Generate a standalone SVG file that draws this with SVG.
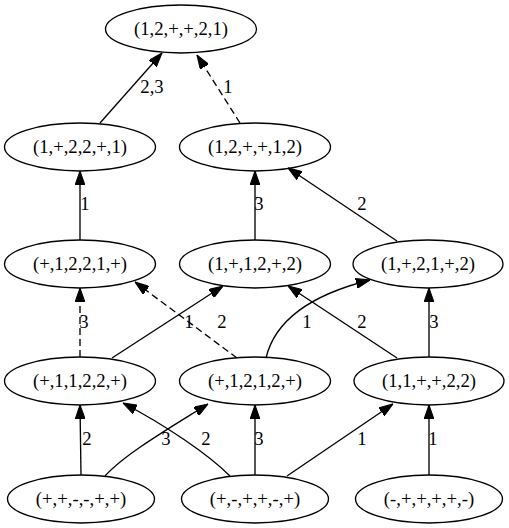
<svg xmlns="http://www.w3.org/2000/svg" width="509" height="528" viewBox="0 0 509 528">
<style>
.n ellipse{fill:none;stroke:#000;stroke-width:1.33}
text{font-family:"Liberation Serif","Times New Roman",serif;font-size:18.67px;text-anchor:middle;fill:#000}
.e path{fill:none;stroke:#000;stroke-width:1.33;marker-end:url(#ah)}
.e path.d{stroke-dasharray:7,4}
</style>
<defs>
<marker id="ah" markerUnits="userSpaceOnUse" markerWidth="14" markerHeight="10" viewBox="0 0 13.3 9.33" refX="13.3" refY="4.67" orient="auto">
<path d="M0,0 L13.3,4.67 L0,9.33 z" fill="#000" stroke="#000" stroke-width="1"/>
</marker>
</defs>
<rect width="509" height="528" fill="#fff"/>
<g class="e" id="edges">
<path d="M100,123 L162,53"/>
<path class="d" d="M240,123 L197,55"/>
<path d="M80,240 L80,171"/>
<path d="M255,240 L255,171"/>
<path d="M397,241 L288,168"/>
<path class="d" d="M80,357 L80,288"/>
<path d="M112,358 L223,286"/>
<path class="d" d="M237,358 L135,282"/>
<path d="M266,358 C275,320 310,295 370,280"/>
<path d="M397,358 L288,286"/>
<path d="M429,357 L429,288"/>
<path d="M81,475 L80,405"/>
<path d="M105,476 C125,454 168,429 208,404"/>
<path d="M230,476 C208,454 165,425 123,403"/>
<path d="M255,475 L255,405"/>
<path d="M287,476 L393,404"/>
<path d="M429,475 L429,405"/>
<text x="152" y="93">2,3</text>
<text x="228" y="93">1</text>
<text x="85" y="210">1</text>
<text x="259" y="210">3</text>
<text x="362" y="210">2</text>
<text x="84" y="328">3</text>
<text x="189" y="328">1</text>
<text x="222" y="328">2</text>
<text x="307" y="328">1</text>
<text x="362" y="328">2</text>
<text x="434" y="328">3</text>
<text x="87" y="445">2</text>
<text x="166" y="445">3</text>
<text x="206" y="445">2</text>
<text x="259" y="445">3</text>
<text x="362" y="445">1</text>
<text x="433" y="445">1</text>
</g>
<g class="n" id="n0"><ellipse cx="181" cy="29" rx="75.5" ry="24"/><text x="181" y="35">(1,2,+,+,2,1)</text></g>
<g class="n" id="n1"><ellipse cx="80" cy="147" rx="75.5" ry="24"/><text x="80" y="153">(1,+,2,2,+,1)</text></g>
<g class="n" id="n2"><ellipse cx="255" cy="147" rx="75.5" ry="24"/><text x="255" y="153">(1,2,+,+,1,2)</text></g>
<g class="n" id="n3"><ellipse cx="80" cy="264" rx="75.5" ry="24"/><text x="80" y="270">(+,1,2,2,1,+)</text></g>
<g class="n" id="n4"><ellipse cx="255" cy="264" rx="75.5" ry="24"/><text x="255" y="270">(1,+,1,2,+,2)</text></g>
<g class="n" id="n5"><ellipse cx="428" cy="264" rx="75" ry="24"/><text x="428" y="270">(1,+,2,1,+,2)</text></g>
<g class="n" id="n6"><ellipse cx="80" cy="381" rx="75.5" ry="24"/><text x="80" y="387">(+,1,1,2,2,+)</text></g>
<g class="n" id="n7"><ellipse cx="255" cy="381" rx="75.5" ry="24"/><text x="255" y="387">(+,1,2,1,2,+)</text></g>
<g class="n" id="n8"><ellipse cx="429" cy="381" rx="75" ry="24"/><text x="429" y="387">(1,1,+,+,2,2)</text></g>
<g class="n" id="n9"><ellipse cx="81" cy="499" rx="73.5" ry="24"/><text x="81" y="505">(+,+,-,-,+,+)</text></g>
<g class="n" id="n10"><ellipse cx="255" cy="499" rx="73.5" ry="24"/><text x="255" y="505">(+,-,+,+,-,+)</text></g>
<g class="n" id="n11"><ellipse cx="429" cy="499" rx="73.5" ry="24"/><text x="429" y="505">(-,+,+,+,+,-)</text></g>
</svg>
